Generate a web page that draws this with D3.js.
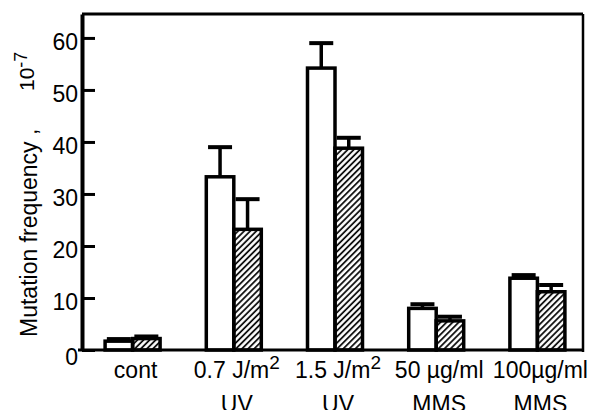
<!DOCTYPE html>
<html lang="en">
    <head>
        <meta charset="UTF-8" />
        <title>Mutation frequency</title>
        <style>
            body { margin: 0; background: #fff; }
            svg { display: block; font-family: "Liberation Sans", Arial, Helvetica, sans-serif; }
        </style>
    </head>
    <body>
        <div id="chart"></div>
        <script src="https://cdn.jsdelivr.net/npm/d3@7"></script>
        <script>
            // data (units of 10^-7)
            const categories = ['cont', '0.7UV', '1.5UV', '50MMS', '100MMS'];
            const labelLine1 = ['cont', '0.7 J/m', '1.5 J/m', '50 µg/ml', '100µg/ml'];
            const labelSup = ['', '2', '2', '', ''];
            const labelLine2 = ['', 'UV', 'UV', 'MMS', 'MMS'];
            const openValues = [1.7, 33.3, 54.2, 8.0, 13.8];
            const openErrors = [0.4, 5.7, 4.8, 0.8, 0.6];
            const hatchedValues = [2.2, 23.2, 38.8, 5.6, 11.2];
            const hatchedErrors = [0.4, 5.8, 2.0, 0.8, 1.3];
            const yTicks = [0, 10, 20, 30, 40, 50, 60];
            const yMax = 64.6;

            const W = 602, H = 410;
            const plotL = 82, plotR = 583, plotT = 14, plotB = 350;

            const svg = d3.select('#chart').append('svg')
                .attr('width', W)
                .attr('height', H);

            // hatch pattern for the second series
            svg.append('defs').append('pattern')
                .attr('id', 'hatch')
                .attr('patternUnits', 'userSpaceOnUse')
                .attr('width', 4.3)
                .attr('height', 10)
                .attr('patternTransform', 'rotate(45)')
                .append('line')
                .attr('x1', 1).attr('y1', 0)
                .attr('x2', 1).attr('y2', 10)
                .attr('stroke', '#000')
                .attr('stroke-width', 1.7);

            const y = d3.scaleLinear().domain([0, yMax]).range([plotB, plotT]);
            const x = d3.scaleBand().domain(categories).range([plotL, 588]).padding(0);
            const sub = d3.scaleBand().domain(['open', 'hatched']).range([0, 55]);

            const rows = categories.map((c, i) => ({
                cat: c,
                bars: [
                    { key: 'open', v: openValues[i], e: openErrors[i] },
                    { key: 'hatched', v: hatchedValues[i], e: hatchedErrors[i] }
                ]
            }));

            // bars
            const groups = svg.selectAll('g.grp')
                .data(rows)
                .enter().append('g')
                .attr('class', 'grp')
                .attr('transform', (d) => `translate(${x(d.cat) + x.bandwidth() / 2 - 27.5},0)`);

            const bar = groups.selectAll('g.bar')
                .data((d) => d.bars)
                .enter().append('g')
                .attr('class', 'bar');

            bar.append('rect')
                .attr('x', (d) => sub(d.key))
                .attr('y', (d) => y(d.v))
                .attr('width', sub.bandwidth())
                .attr('height', (d) => y(0) - y(d.v))
                .attr('fill', (d) => d.key === 'open' ? '#fff' : 'url(#hatch)')
                .attr('stroke', '#000')
                .attr('stroke-width', 3.5);

            // upper error bars only
            bar.append('line')
                .attr('x1', (d) => sub(d.key) + sub.bandwidth() / 2)
                .attr('x2', (d) => sub(d.key) + sub.bandwidth() / 2)
                .attr('y1', (d) => y(d.v))
                .attr('y2', (d) => y(d.v + d.e))
                .attr('stroke', '#000')
                .attr('stroke-width', 3.5);

            bar.append('line')
                .attr('x1', (d) => sub(d.key) + sub.bandwidth() / 2 - 12)
                .attr('x2', (d) => sub(d.key) + sub.bandwidth() / 2 + 12)
                .attr('y1', (d) => y(d.v + d.e))
                .attr('y2', (d) => y(d.v + d.e))
                .attr('stroke', '#000')
                .attr('stroke-width', 4);

            // frame: top, right, baseline
            svg.append('line')
                .attr('x1', plotL).attr('x2', plotR)
                .attr('y1', plotT).attr('y2', plotT)
                .attr('stroke', '#000').attr('stroke-width', 3);
            svg.append('line')
                .attr('x1', plotR).attr('x2', plotR)
                .attr('y1', plotT).attr('y2', plotB + 2)
                .attr('stroke', '#000').attr('stroke-width', 2.5);
            svg.append('line')
                .attr('x1', 78).attr('x2', plotR)
                .attr('y1', y(0)).attr('y2', y(0))
                .attr('stroke', '#000').attr('stroke-width', 3);

            // y axis, ticks pointing inward
            const yAxis = svg.append('g')
                .attr('transform', `translate(${plotL},0)`)
                .call(d3.axisLeft(y)
                    .tickValues(yTicks)
                    .tickSizeInner(-13)
                    .tickSizeOuter(0)
                    .tickPadding(4));
            yAxis.select('.domain').attr('stroke-width', 4);
            yAxis.selectAll('.tick line').attr('stroke-width', 3);
            yAxis.selectAll('.tick text')
                .attr('font-size', 23)
                .attr('font-family', '"Liberation Sans", Arial, sans-serif')
                .attr('fill', '#000')
                .attr('dy', (d) => d === 0 ? '0.65em' : '0.5em');

            // category labels
            const lab = svg.selectAll('g.lab')
                .data(categories)
                .enter().append('g')
                .attr('class', 'lab')
                .attr('transform', (d) => `translate(${x(d) + x.bandwidth() / 2 + 3},0)`);

            const t1 = lab.append('text')
                .attr('y', 378)
                .attr('text-anchor', 'middle')
                .attr('font-size', 23)
                .text((d, i) => labelLine1[i]);
            t1.append('tspan')
                .attr('font-size', 19)
                .attr('dy', -9)
                .text((d, i) => labelSup[i]);

            lab.append('text')
                .attr('y', 412)
                .attr('text-anchor', 'middle')
                .attr('font-size', 23)
                .text((d, i) => labelLine2[i]);

            // y label
            svg.append('text')
                .attr('transform', 'translate(37,337) rotate(-90)')
                .attr('font-size', 23)
                .text('Mutation frequency ,');

            const unit = svg.append('text')
                .attr('transform', 'translate(34,91) rotate(-90)')
                .attr('font-size', 21)
                .text('10');
            unit.append('tspan')
                .attr('font-size', 18)
                .attr('dy', -7)
                .text('-7');
        </script>
    </body>
</html>
